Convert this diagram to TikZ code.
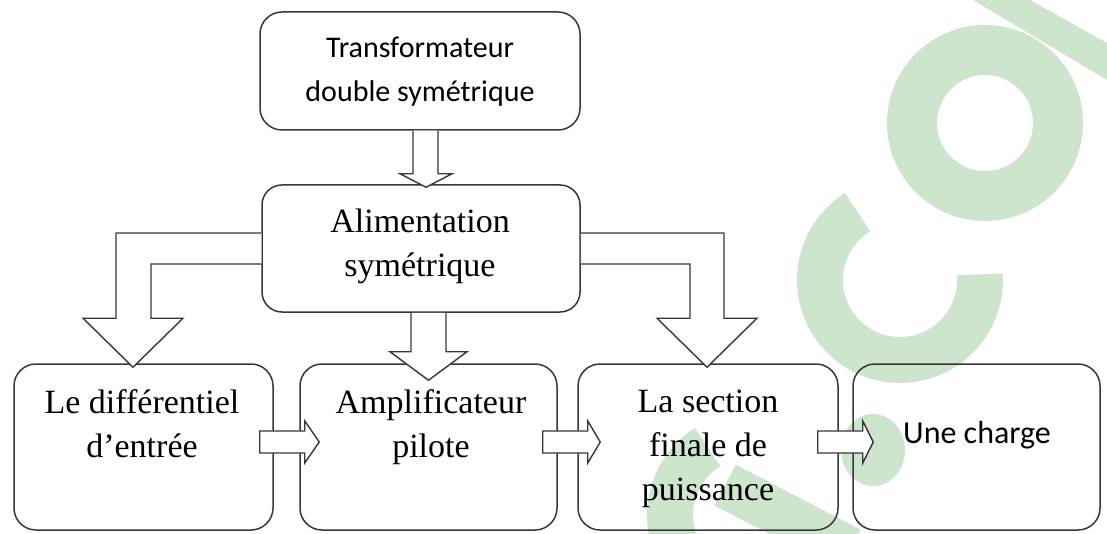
\documentclass[tikz,border=0pt]{standalone}
\usepackage{fontspec}
\setmainfont{Liberation Serif}
\newfontfamily\calfont{Carlito}
\usetikzlibrary{calc}
\definecolor{wm}{RGB}{205,228,205}
\definecolor{ln}{RGB}{55,55,55}
\begin{document}
\begin{tikzpicture}[x=0.5pt,y=-0.5pt,
  box/.style={draw=ln, line width=0.75pt, rounded corners=11pt, inner sep=0pt},
  barrow/.style={draw=ln, line width=0.7pt, fill=white, line join=miter},
  serif/.style={font=\fontsize{17}{22}\selectfont, anchor=base, inner sep=0pt},
  sans/.style={font=\calfont\fontsize{15}{22}\selectfont, anchor=base, inner sep=0pt},
  wmline/.style={draw=wm, line width=23pt}]
\useasboundingbox (0,0) rectangle (1107,534);
% watermark
\begin{scope}
\clip (0,0) rectangle (1107,534);
\fill[wm] (973,0) -- (1030,0) -- (1107,43) -- (1107,80) -- cycle;
\draw[draw=wm, line width=25pt] (985,123) circle[radius=73];
\draw[wmline] (900,280) ++(-122:80) arc[start angle=-122, end angle=-364, radius=80];
\draw[wmline] (750,515) ++(-122:80) arc[start angle=-122, end angle=-215, radius=80];
\draw[wmline] (725,485) -- (850,550);
\fill[wm] (873,450) ellipse[x radius=32, y radius=36];
\end{scope}
% boxes
\node[box, minimum width=160pt, minimum height=59pt] (top) at (420,71) {};
\node[box, rounded corners=10pt, minimum width=159pt, minimum height=63.5pt] (alim) at (421,248.5) {};
\node[box, minimum width=129.5pt, minimum height=83pt] (b1) at (143.5,447) {};
\node[box, minimum width=128.5pt, minimum height=83pt] (b2) at (428.5,447) {};
\node[box, minimum width=130pt, minimum height=83pt] (b3) at (708,447) {};
\node[box, minimum width=123.5pt, minimum height=83pt] (b4) at (976.5,447) {};
% texts
\node[sans] (t1a) at (420,58) {Transformateur};
\node[sans] (t1b) at (420,102) {double symétrique};
\node[serif] (t2a) at (420,233) {Alimentation};
\node[serif] (t2b) at (420,277) {symétrique};
\node[serif] (t3a) at (142,413) {Le différentiel};
\node[serif] (t3b) at (142,457) {d’entrée};
\node[serif] (t4a) at (431,413) {Amplificateur};
\node[serif] (t4b) at (431,457) {pilote};
\node[serif] (t5a) at (708,412) {La section};
\node[serif] (t5b) at (708,456) {finale de};
\node[serif] (t5c) at (708,500) {puissance};
\node[font=\calfont\fontsize{16}{22}\selectfont, anchor=base, inner sep=0pt] (t6) at (977,443) {Une charge};
% arrows
\draw[barrow] ($(top.south)+(-7,0)$) -- ++(0,43) -- ++(-13,0) -- ($(alim.north)+(5,3)$)
  -- ($(top.south)+(32,43)$) -- ++(-14,0) -- ($(top.south)+(18,0)$);
\draw[barrow] ($(alim.west)+(0,-15.5)$) -| ($(b1.north)+(-27.5,-45)$) -- ++(-33,0)
  -- ($(b1.north)+(-10.5,4)$) -- ($(b1.north)+(39.5,-45)$) -- ++(-32,0) |- ($(alim.west)+(0,15.5)$);
\draw[barrow] ($(alim.east)+(0,-15.5)$) -| ($(b3.north)+(16,-45)$) -- ++(33,0)
  -- ($(b3.north)+(-1,4)$) -- ($(b3.north)+(-51,-45)$) -- ++(33,0) |- ($(alim.east)+(0,15.5)$);
\draw[barrow] ($(alim.south)+(-10,0)$) -- ++(0,39) -- ++(-21,0) -- ($(b2.north)+(0,17)$)
  -- ($(alim.south)+(46,39)$) -- ++(-21,0) -- ($(alim.south)+(25,0)$);
\draw[barrow] ($(b1.east)+(-14,-16)$) -- ++(45,0) -- ++(0,-10) -- ($(b2.west)+(20,-5)$)
  -- ($(b1.east)+(31,16)$) -- ++(0,-10) -- ++(-45,0) -- cycle;
\draw[barrow] ($(b2.east)+(-15,-16)$) -- ++(45,0) -- ++(0,-10) -- ($(b3.west)+(23,-5)$)
  -- ($(b2.east)+(30,16)$) -- ++(0,-10) -- ++(-45,0) -- cycle;
\draw[barrow] ($(b3.east)+(-21,-16)$) -- ++(45,0) -- ++(0,-10) -- ($(b4.west)+(21,-5)$)
  -- ($(b3.east)+(24,16)$) -- ++(0,-10) -- ++(-45,0) -- cycle;
\end{tikzpicture}
\end{document}
